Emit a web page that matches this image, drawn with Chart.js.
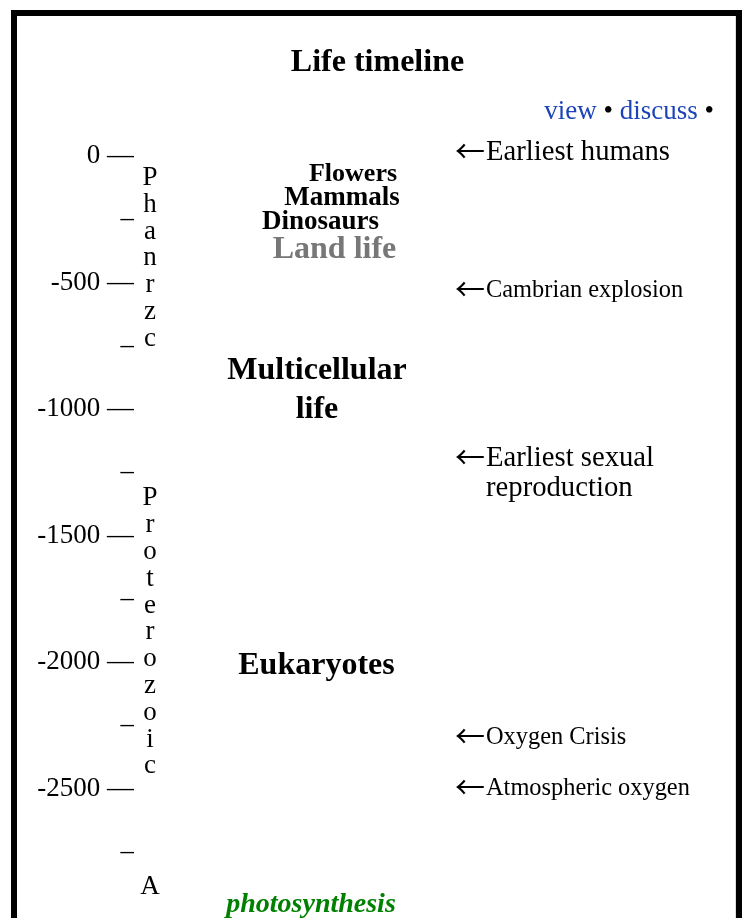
<!DOCTYPE html>
<html>
<head>
<meta charset="utf-8">
<script src="https://cdn.jsdelivr.net/npm/chart.js@4.4.1/dist/chart.umd.min.js"></script>
<style>
  html, body { margin: 0; padding: 0; overflow: hidden; background: #fff; }
  #frame { position: absolute; left: 11px; top: 10px; width: 719px; height: 1040px;
           border: 6px solid #000; box-shadow: inset -1px 0 0 #ddd; }
  #chart { position: absolute; left: 0; top: 0; }
</style>
</head>
<body>
<div id="frame"></div>
<canvas id="chart" width="742" height="1040"></canvas>
<script>
// ages in millions of years (negative = ago)
const majorTicks = [0, -500, -1000, -1500, -2000, -2500];
const minorTicks = [-250, -750, -1250, -1750, -2250, -2750];

const eonNames = ['Phanrzc', 'Proterozoic', 'A'];
const eonTopMa = [-87, -1354, -2889];

const lifeEvents = ['Flowers', 'Mammals', 'Dinosaurs', 'Land life', 'Multicellular\nlife', 'Eukaryotes', 'photosynthesis'];
const lifeEventMa = [-73, -168, -261, -370, -925, -2012, -2960];

const milestones = ['Earliest humans', 'Cambrian explosion', 'Earliest sexual\nreproduction', 'Oxygen Crisis', 'Atmospheric oxygen'];
const milestoneMa = [12, -532, -1257, -2300, -2502];

// look of the labels (kept apart from the data)
const serif = '"Liberation Serif", "Times New Roman", serif';
const CAP = 0.33; // cap centre above baseline, in em
const eonX = 150;
const lifeStyle = [
  { x: 353, size: 26, style: 'bold', color: '#000' },
  { x: 342, size: 27, style: 'bold', color: '#000' },
  { x: 320.5, size: 27, style: 'bold', color: '#000' },
  { x: 334.5, size: 32, style: 'bold', color: '#777' },
  { x: 317, size: 32, style: 'bold', color: '#000', lh: 38.5 },
  { x: 316.5, size: 32, style: 'bold', color: '#000' },
  { x: 311, size: 28, style: 'italic bold', color: '#008000' }
];
const milestoneX = 455;
const milestoneSize = [28.7, 24.4, 28.7, 24.4, 24.4];

const textPlugin = {
  id: 'timelineText',
  afterDatasetsDraw(chart) {
    const ctx = chart.ctx;
    ctx.save();
    ctx.textBaseline = 'alphabetic';
    ctx.fillStyle = '#000';

    // view • discuss • links
    const parts = [['view', '#1c44b8'], [' • ', '#000'], ['discuss', '#1c44b8'], [' •', '#000']];
    ctx.font = '27px ' + serif;
    const total = parts.reduce((w, p) => w + ctx.measureText(p[0]).width, 0);
    let lx = 714 - total;
    ctx.textAlign = 'left';
    parts.forEach(p => {
      ctx.fillStyle = p[1];
      ctx.fillText(p[0], lx, 110.5 + CAP * 27);
      lx += ctx.measureText(p[0]).width;
    });

    // eon letters, written downwards
    ctx.fillStyle = '#000';
    ctx.textAlign = 'center';
    ctx.font = '27px ' + serif;
    chart.getDatasetMeta(0).data.forEach((pt, i) => {
      [...eonNames[i]].forEach((ch, j) => ctx.fillText(ch, pt.x, pt.y + CAP * 27 + j * 26.8));
    });

    // life events in the middle column
    chart.getDatasetMeta(1).data.forEach((pt, i) => {
      const st = lifeStyle[i];
      ctx.font = st.style + ' ' + st.size + 'px ' + serif;
      ctx.fillStyle = st.color;
      const lines = lifeEvents[i].split('\n');
      const lh = st.lh || 30;
      lines.forEach((ln, j) =>
        ctx.fillText(ln, pt.x, pt.y + CAP * st.size + (j - (lines.length - 1) / 2) * lh));
    });

    // milestones with arrows
    ctx.textAlign = 'left';
    ctx.fillStyle = '#000';
    chart.getDatasetMeta(2).data.forEach((pt, i) => {
      const lines = milestones[i].split('\n');
      const y0 = pt.y - (lines.length - 1) / 2 * 30;
      ctx.font = '30px "Noto Sans CJK SC"';
      ctx.fillText('←', pt.x, y0 + 0.37 * 30);
      const sz = milestoneSize[i];
      ctx.font = sz + 'px ' + serif;
      lines.forEach((ln, j) => ctx.fillText(ln, pt.x + 31, y0 + CAP * sz + j * 30));
    });
    ctx.restore();
  }
};

new Chart(document.getElementById('chart'), {
  type: 'scatter',
  data: {
    datasets: [
      { label: 'eons', data: eonTopMa.map(v => ({ x: eonX, y: v })) },
      { label: 'life', data: lifeEventMa.map((v, i) => ({ x: lifeStyle[i].x, y: v })) },
      { label: 'milestones', data: milestoneMa.map(v => ({ x: milestoneX, y: v })) }
    ]
  },
  options: {
    responsive: false,
    animation: false,
    devicePixelRatio: 1,
    events: [],
    elements: { point: { radius: 0, hoverRadius: 0 } },
    // 0 Ma at y=154, 0.253 px per Ma
    layout: { padding: { left: 19, right: 6, top: 0, bottom: 1040 - 154 - 0.253 * 3400 } },
    scales: {
      x: { type: 'linear', display: false, min: 134, max: 736 },
      y: {
        min: -3400,
        max: 0,
        afterBuildTicks: s => {
          s.ticks = majorTicks.concat(minorTicks).sort((a, b) => b - a).map(v => ({ value: v }));
        },
        afterFit: s => { s.width = 115; },
        grid: { display: false, drawTicks: false },
        border: { display: false },
        ticks: {
          autoSkip: false,
          padding: 0,
          labelOffset: 2,
          color: '#000',
          font: { family: serif, size: 27 },
          callback: v => majorTicks.includes(v) ? v + ' —' : '–'
        }
      }
    },
    plugins: {
      legend: { display: false },
      tooltip: { enabled: false },
      title: {
        display: true,
        text: 'Life timeline',
        color: '#000',
        font: { family: serif, size: 32, weight: 'bold' },
        padding: { top: 43.3, bottom: 72.3 }
      }
    }
  },
  plugins: [textPlugin]
});
</script>
</body>
</html>
